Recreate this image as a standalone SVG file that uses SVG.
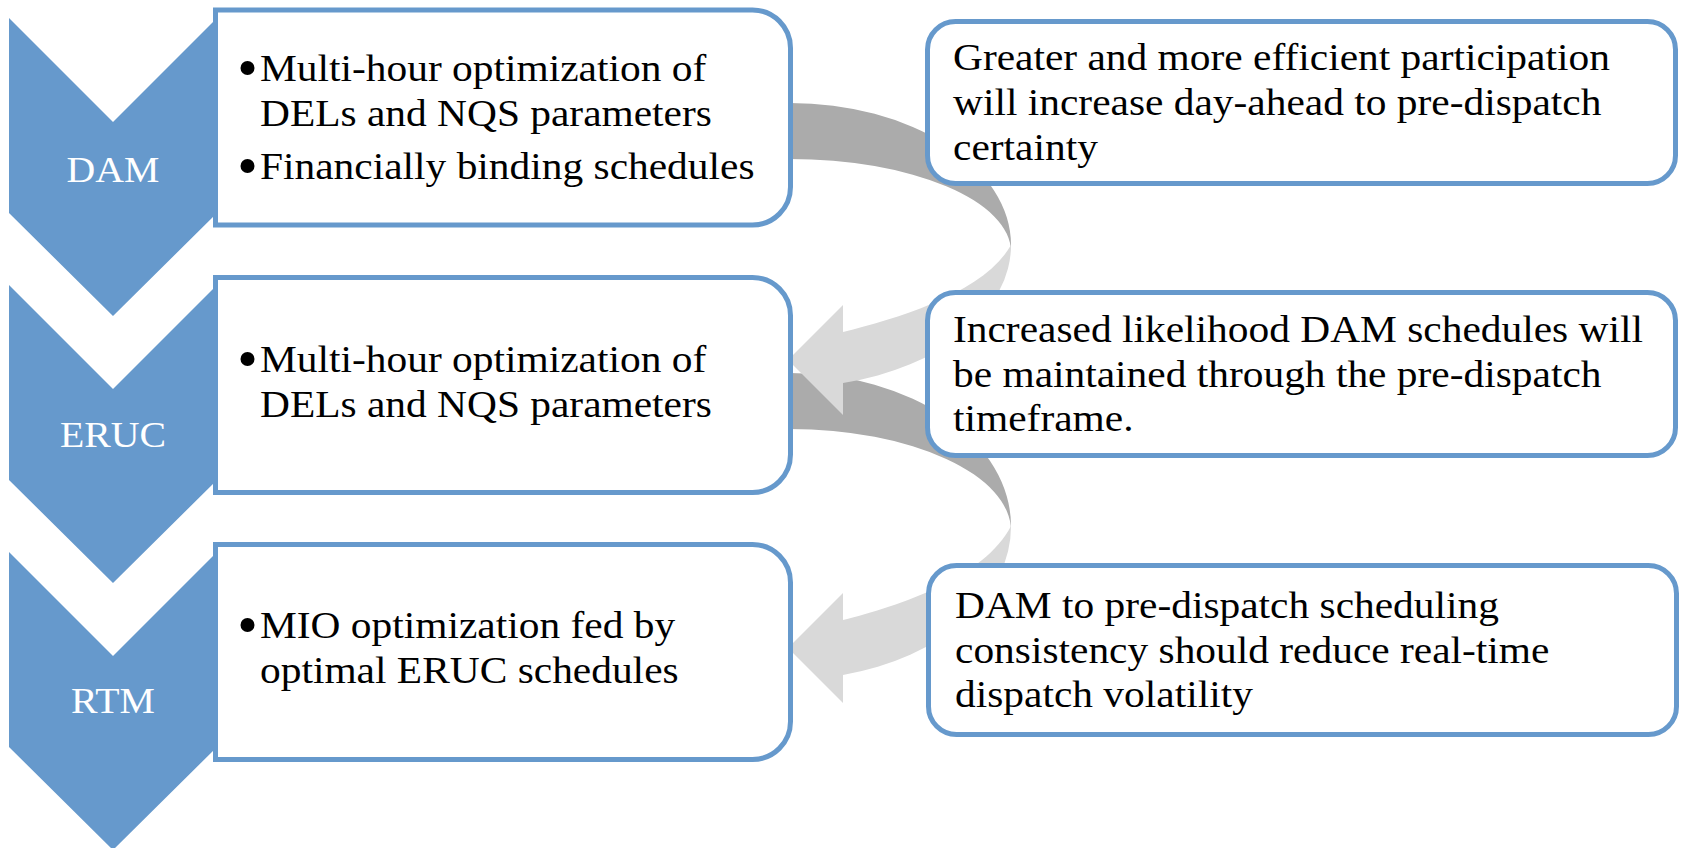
<svg xmlns="http://www.w3.org/2000/svg" width="1682" height="848" viewBox="0 0 1682 848">
<style>
.chev{fill:#6699CC}
.box{fill:#FFFFFF;stroke:#6699CC;stroke-width:5}
.dark{fill:#ABABAB}
.light{fill:#D9D9D9}
.t{font-family:"Liberation Serif","Times New Roman",serif;font-size:38px;fill:#000000}
.lab{font-family:"Liberation Serif","Times New Roman",serif;font-size:36.5px;fill:#FFFFFF;text-anchor:middle}
.bul{fill:#000000}
</style>
<rect width="1682" height="848" fill="#FFFFFF"/>
<g id="connectors">
  <path class="dark" d="M785,103 H790 A221 142 0 0 1 1011,245 L1011,252 A221 93 0 0 0 790,159 H785 Z"/>
  <path class="dark" d="M785,373 H790 A221 153 0 0 1 1011,526 L1011,531 A221 102 0 0 0 790,429 H785 Z"/>
  <path class="light" d="M1011,245 A221 142 0 0 1 843,383 L843,415 L788,360 L843,305 L843,332 C900,318 985,292 1011,245 Z"/>
  <path class="light" d="M1011,526 A221 153 0 0 1 843,675 L843,703 L788,648 L843,593 L843,620 C900,606 985,577 1011,526 Z"/>
</g>
<g id="dam">
  <path class="chev" d="M9,18 L113,122 L217,18 L217,213 L113,316 L9,213 Z"/>
  <g transform="translate(113 182) scale(1.09 1)"><text class="lab" x="0" y="0">DAM</text></g>
  <path class="box" d="M215.5,10 H752.5 A38 38 0 0 1 790.5,48 V187 A38 38 0 0 1 752.5,225 H215.5 Z"/>
  <circle class="bul" cx="247.5" cy="68" r="7"/>
  <circle class="bul" cx="247.5" cy="166" r="7"/>
  <g transform="translate(260 0) scale(1.09 1)">
    <text class="t" x="0" y="81">Multi-hour optimization of</text>
    <text class="t" x="0" y="126">DELs and NQS parameters</text>
    <text class="t" x="0" y="179">Financially binding schedules</text>
  </g>
</g>
<g id="eruc">
  <path class="chev" d="M9,285 L113,389 L217,285 L217,480 L113,583 L9,480 Z"/>
  <g transform="translate(113 447) scale(1.09 1)"><text class="lab" x="0" y="0">ERUC</text></g>
  <path class="box" d="M215.5,277.5 H752.5 A38 38 0 0 1 790.5,315.5 V454.5 A38 38 0 0 1 752.5,492.5 H215.5 Z"/>
  <circle class="bul" cx="247.5" cy="359" r="7"/>
  <g transform="translate(260 0) scale(1.09 1)">
    <text class="t" x="0" y="372">Multi-hour optimization of</text>
    <text class="t" x="0" y="417">DELs and NQS parameters</text>
  </g>
</g>
<g id="rtm">
  <path class="chev" d="M9,552 L113,656 L217,552 L217,747 L113,850 L9,747 Z"/>
  <g transform="translate(113 713) scale(1.09 1)"><text class="lab" x="0" y="0">RTM</text></g>
  <path class="box" d="M215.5,544.5 H752.5 A38 38 0 0 1 790.5,582.5 V721.5 A38 38 0 0 1 752.5,759.5 H215.5 Z"/>
  <circle class="bul" cx="247.5" cy="625" r="7"/>
  <g transform="translate(260 0) scale(1.09 1)">
    <text class="t" x="0" y="638">MIO optimization fed by</text>
    <text class="t" x="0" y="683">optimal ERUC schedules</text>
  </g>
</g>
<g id="note1">
  <rect class="box" x="927.5" y="21.5" width="748" height="162" rx="28" ry="28"/>
  <g transform="translate(953 0) scale(1.09 1)">
    <text class="t" x="0" y="70">Greater and more efficient participation</text>
    <text class="t" x="0" y="115">will increase day-ahead to pre-dispatch</text>
    <text class="t" x="0" y="160">certainty</text>
  </g>
</g>
<g id="note2">
  <rect class="box" x="927.5" y="292.5" width="748" height="163" rx="28" ry="28"/>
  <g transform="translate(953 0) scale(1.09 1)">
    <text class="t" x="0" y="342">Increased likelihood DAM schedules will</text>
    <text class="t" x="0" y="387">be maintained through the pre-dispatch</text>
    <text class="t" x="0" y="431">timeframe.</text>
  </g>
</g>
<g id="note3">
  <rect class="box" x="928.5" y="565.5" width="748" height="169" rx="28" ry="28"/>
  <g transform="translate(955 0) scale(1.09 1)">
    <text class="t" x="0" y="618">DAM to pre-dispatch scheduling</text>
    <text class="t" x="0" y="663">consistency should reduce real-time</text>
    <text class="t" x="0" y="707">dispatch volatility</text>
  </g>
</g>
</svg>
